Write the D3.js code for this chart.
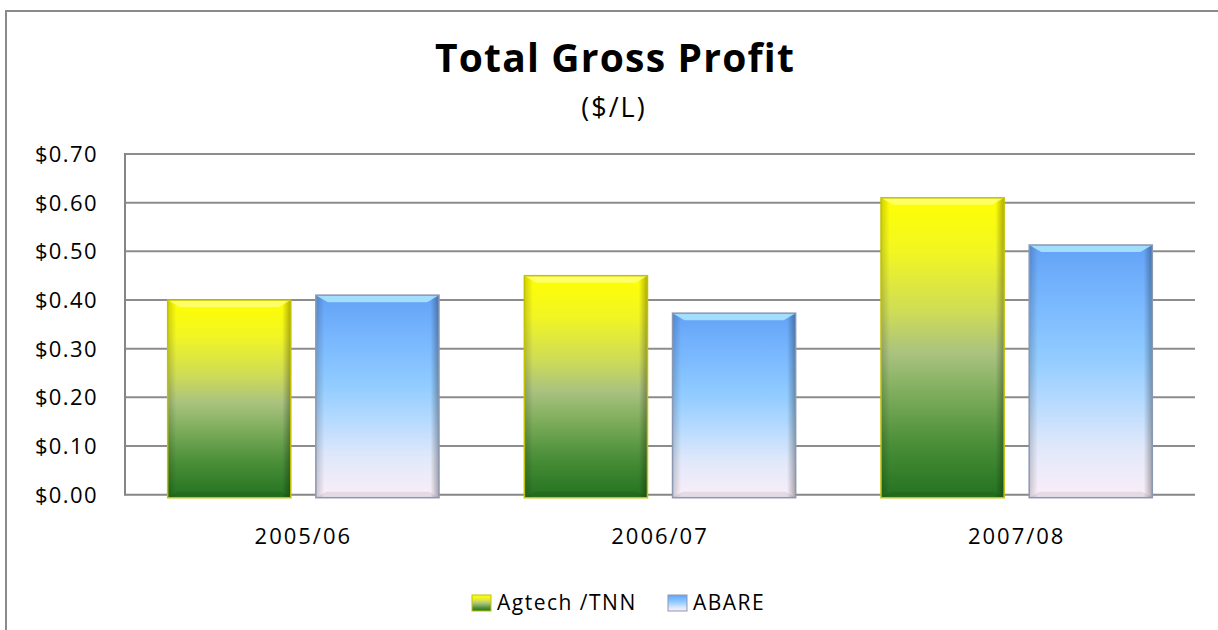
<!DOCTYPE html>
<html>
<head>
<meta charset="utf-8">
<script src="https://cdn.jsdelivr.net/npm/d3@7"></script>
<style>
  body { margin: 0; background: #fff; }
  text { font-family: "Open Sans", sans-serif; fill: #000; }
</style>
</head>
<body>
<svg id="chart" width="1218" height="630"></svg>
<script>
// chart data
var years = ["2005/06", "2006/07", "2007/08"];
var seriesNames = ["Agtech /TNN", "ABARE"];
var agtech = [0.40, 0.45, 0.61];
var abare = [0.41, 0.373, 0.513];
var tickValues = [0, 0.1, 0.2, 0.3, 0.4, 0.5, 0.6, 0.7];

var width = 1218, height = 630;
var plotLeft = 125, plotRight = 1195, plotTop = 154, plotBottom = 494.7;

var svg = d3.select("#chart");

// outer chart border (open on the right/bottom like the crop)
svg.append("path")
  .attr("d", "M6," + (height + 5) + "V11H" + (width + 5))
  .attr("fill", "none")
  .attr("stroke", "#8a8a8a")
  .attr("stroke-width", 2);

// gradients
var defs = svg.append("defs");

function vGrad(id, stops) {
  var g = defs.append("linearGradient").attr("id", id)
    .attr("x1", 0).attr("y1", 0).attr("x2", 0).attr("y2", 1);
  stops.forEach(function(s) {
    g.append("stop").attr("offset", s[0]).attr("stop-color", s[1]);
  });
}
vGrad("gAgtech", [[0, "#ffff00"], [0.18, "#f2f622"], [0.38, "#cedc56"], [0.52, "#a9c27f"],
                  [0.66, "#7cac5a"], [0.82, "#4a8e38"], [1, "#237220"]]);
vGrad("gAbare", [[0, "#62a2f6"], [0.25, "#7cbaff"], [0.45, "#92ccff"], [0.62, "#b6daff"],
                 [0.8, "#e0e8fa"], [1, "#fbeef8"]]);

var side = defs.append("linearGradient").attr("id", "gSide")
  .attr("x1", 0).attr("y1", 0).attr("x2", 1).attr("y2", 0);
side.append("stop").attr("offset", 0).attr("stop-color", "#000").attr("stop-opacity", 0.18);
side.append("stop").attr("offset", 0.07).attr("stop-color", "#000").attr("stop-opacity", 0);
side.append("stop").attr("offset", 0.93).attr("stop-color", "#000").attr("stop-opacity", 0);
side.append("stop").attr("offset", 1).attr("stop-color", "#000").attr("stop-opacity", 0.32);

var fills = ["url(#gAgtech)", "url(#gAbare)"];
var strokes = ["#c2c200", "#8a98b4"];
var tops = ["#ffff80", "#b4ecff"];

// scales
var y = d3.scaleLinear().domain([0, 0.7]).range([plotBottom, plotTop]);
var x0 = d3.scaleBand().domain(years).range([plotLeft, plotRight]);
var x1 = d3.scaleBand().domain(seriesNames).range([0, x0.bandwidth()])
  .paddingInner(0.169).paddingOuter(0.288);

// title
svg.append("text")
  .attr("x", 615).attr("y", 72)
  .attr("text-anchor", "middle")
  .style("font-size", "39px").style("font-weight", "bold")
  .style("letter-spacing", "1.2px")
  .text("Total Gross Profit");

svg.append("text")
  .attr("x", 614).attr("y", 117)
  .attr("text-anchor", "middle")
  .style("font-size", "27px")
  .style("letter-spacing", "2px")
  .text("($/L)");

// gridlines
svg.selectAll(".grid")
  .data(tickValues.filter(function(d) { return d > 0; }))
  .enter().append("line")
  .attr("class", "grid")
  .attr("x1", plotLeft).attr("x2", plotRight)
  .attr("y1", function(d) { return y(d); })
  .attr("y2", function(d) { return y(d); })
  .attr("stroke", "#8c8c8c")
  .attr("stroke-width", 2);

// axis lines
svg.append("line")
  .attr("x1", plotLeft).attr("x2", plotRight)
  .attr("y1", y(0)).attr("y2", y(0))
  .attr("stroke", "#868686").attr("stroke-width", 2);
svg.append("line")
  .attr("x1", plotLeft).attr("x2", plotLeft)
  .attr("y1", y(0.7) - 1).attr("y2", y(0) + 1)
  .attr("stroke", "#868686").attr("stroke-width", 2);

// y tick labels
svg.selectAll(".ytick")
  .data(tickValues)
  .enter().append("text")
  .attr("class", "ytick")
  .attr("x", 98)
  .attr("y", function(d) { return y(d) + 8; })
  .attr("text-anchor", "end")
  .style("font-size", "22px")
  .style("letter-spacing", "1.4px")
  .text(function(d) { return "$" + d.toFixed(2); });

// x labels
svg.selectAll(".xtick")
  .data(years)
  .enter().append("text")
  .attr("class", "xtick")
  .attr("x", function(d) { return x0(d) + x0.bandwidth() / 2; })
  .attr("y", 544)
  .attr("text-anchor", "middle")
  .style("font-size", "22px")
  .style("letter-spacing", "2px")
  .text(function(d) { return d; });

// bars
var data = [];
years.forEach(function(yr, i) {
  data.push({ year: yr, s: 0, v: agtech[i] });
  data.push({ year: yr, s: 1, v: abare[i] });
});

var bar = svg.selectAll(".bar")
  .data(data)
  .enter().append("g")
  .attr("class", "bar")
  .attr("transform", function(d) {
    return "translate(" + (x0(d.year) + x1(seriesNames[d.s])) + ",0)";
  });

var bw = x1.bandwidth();

bar.append("rect")
  .attr("x", 0).attr("width", bw)
  .attr("y", function(d) { return y(d.v); })
  .attr("height", function(d) { return y(0) - y(d.v) + 3; })
  .attr("fill", function(d) { return fills[d.s]; });

bar.append("rect")
  .attr("x", 0).attr("width", bw)
  .attr("y", function(d) { return y(d.v); })
  .attr("height", function(d) { return y(0) - y(d.v) + 3; })
  .attr("fill", "url(#gSide)");

// top bevel
bar.append("path")
  .attr("d", function(d) {
    var t = y(d.v);
    return "M0," + t + "H" + bw + "L" + (bw - 12) + "," + (t + 7) + "H12Z";
  })
  .attr("fill", function(d) { return tops[d.s]; })
  .attr("opacity", 0.8);

// bottom bevel
bar.append("path")
  .attr("d", function(d) {
    var b = y(0) + 3;
    return "M0," + b + "H" + bw + "L" + (bw - 10) + "," + (b - 6) + "H10Z";
  })
  .attr("fill", "#000")
  .attr("opacity", 0.08);

bar.append("rect")
  .attr("x", 0).attr("width", bw)
  .attr("y", function(d) { return y(d.v); })
  .attr("height", function(d) { return y(0) - y(d.v) + 3; })
  .attr("fill", "none")
  .attr("stroke", function(d) { return strokes[d.s]; })
  .attr("stroke-width", 1.5);

// legend
var legendX = [472, 668];
var legend = svg.selectAll(".legend")
  .data(seriesNames)
  .enter().append("g")
  .attr("class", "legend")
  .attr("transform", function(d, i) { return "translate(" + legendX[i] + ",595)"; });

legend.append("rect")
  .attr("width", 19).attr("height", 16)
  .attr("fill", function(d, i) { return fills[i]; })
  .attr("stroke", function(d, i) { return strokes[i]; })
  .attr("stroke-width", 1);

legend.append("text")
  .attr("x", 25).attr("y", 15)
  .style("font-size", "21px")
  .style("letter-spacing", "1.5px")
  .text(function(d) { return d; });
</script>
</body>
</html>
